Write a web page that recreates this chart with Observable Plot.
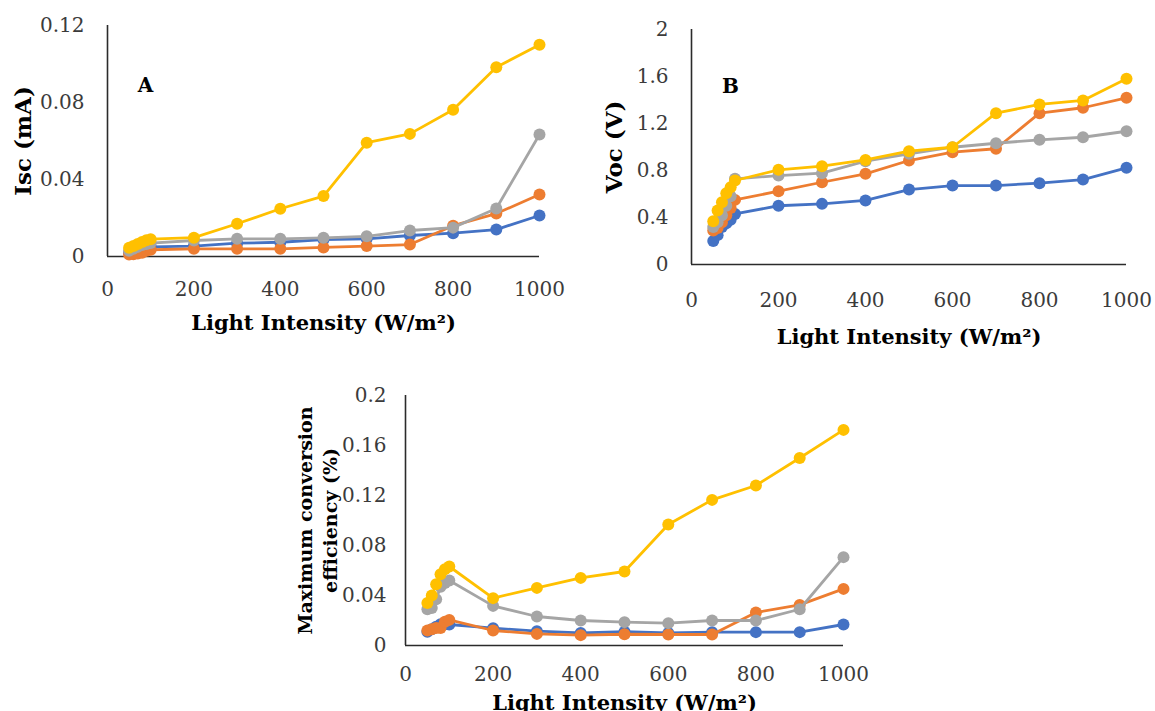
<!DOCTYPE html>
<html>
<head>
<meta charset="utf-8">
<script src="https://cdn.jsdelivr.net/npm/d3@7"></script>
<script src="https://cdn.jsdelivr.net/npm/@observablehq/plot@0.6"></script>
<style>
  body { margin: 0; background: #ffffff; }
  #fig { position: relative; width: 1155px; height: 711px; overflow: hidden; background: #ffffff; }
  .panel { position: absolute; }
</style>
</head>
<body>
<div id="fig"></div>
<script>
// Light intensity (W/m²) shared by all three panels
const intensity = [50, 60, 70, 80, 90, 100, 200, 300, 400, 500, 600, 700, 800, 900, 1000];

const seriesNames = ["Series 1", "Series 2", "Series 3", "Series 4"];
const seriesColors = ["#4472C4", "#ED7D31", "#A5A5A5", "#FFC000"];

// A: short-circuit current Isc (mA)
const iscSeries1 = [0.002, 0.0025, 0.003, 0.004, 0.0045, 0.005, 0.0054, 0.0069, 0.0074, 0.0088, 0.0092, 0.0109, 0.0121, 0.014, 0.0213];
const iscSeries2 = [0.001, 0.0012, 0.0015, 0.002, 0.003, 0.0035, 0.004, 0.004, 0.004, 0.0047, 0.0054, 0.0062, 0.016, 0.0223, 0.0322];
const iscSeries3 = [0.003, 0.004, 0.005, 0.006, 0.0065, 0.007, 0.0083, 0.0092, 0.0092, 0.0097, 0.0105, 0.0135, 0.015, 0.0249, 0.0634];
const iscSeries4 = [0.0045, 0.0055, 0.0065, 0.0075, 0.0085, 0.009, 0.0098, 0.017, 0.0248, 0.0314, 0.0591, 0.0637, 0.0762, 0.0983, 0.110];

// B: open-circuit voltage Voc (V)
const vocSeries1 = [0.20, 0.25, 0.32, 0.35, 0.38, 0.43, 0.50, 0.516, 0.545, 0.638, 0.672, 0.672, 0.692, 0.723, 0.823];
const vocSeries2 = [0.29, 0.31, 0.36, 0.42, 0.48, 0.55, 0.624, 0.70, 0.772, 0.885, 0.956, 0.985, 1.288, 1.334, 1.419];
const vocSeries3 = [0.32, 0.36, 0.42, 0.50, 0.58, 0.729, 0.757, 0.777, 0.879, 0.942, 0.998, 1.032, 1.061, 1.083, 1.134];
const vocSeries4 = [0.369, 0.46, 0.53, 0.607, 0.658, 0.715, 0.806, 0.837, 0.89, 0.964, 0.998, 1.288, 1.362, 1.396, 1.58];

// C: maximum conversion efficiency (%)
const effSeries1 = [0.011, 0.013, 0.015, 0.017, 0.017, 0.0168, 0.0139, 0.0115, 0.0101, 0.011, 0.0101, 0.0107, 0.0107, 0.0107, 0.0168];
const effSeries2 = [0.012, 0.013, 0.014, 0.014, 0.019, 0.0205, 0.012, 0.0093, 0.0083, 0.009, 0.0088, 0.0088, 0.0264, 0.0325, 0.0453];
const effSeries3 = [0.029, 0.030, 0.037, 0.047, 0.050, 0.052, 0.0317, 0.0232, 0.020, 0.0187, 0.0179, 0.020, 0.020, 0.029, 0.0707];
const effSeries4 = [0.034, 0.040, 0.049, 0.057, 0.061, 0.0632, 0.0379, 0.0461, 0.0541, 0.0592, 0.0968, 0.1165, 0.128, 0.150, 0.1725];

// Tick values
const xTicks = [0, 200, 400, 600, 800, 1000];
const iscTicks = [0, 0.04, 0.08, 0.12];
const vocTicks = [0, 0.4, 0.8, 1.2, 1.6, 2];
const effTicks = [0, 0.04, 0.08, 0.12, 0.16, 0.2];

const xTitle = "Light Intensity (W/m²)";
const font = "'DejaVu Serif', 'Liberation Serif', serif";

function panel(cfg) {
  const series = [cfg.s1, cfg.s2, cfg.s3, cfg.s4];
  const seriesMarks = series.flatMap((vals, si) => {
    const rows = intensity.map((x, i) => ({x, y: vals[i], series: seriesNames[si]}));
    return [
      Plot.line(rows, {x: "x", y: "y", stroke: seriesColors[si], strokeWidth: 2.8, strokeLinejoin: "round"}),
      Plot.dot(rows, {x: "x", y: "y", fill: seriesColors[si], r: 6})
    ];
  });
  const marks = [
    Plot.axisX({ticks: xTicks, tickSize: 0, tickPadding: cfg.xPad, tickFormat: d => String(d),
      label: null, fontSize: 20, fill: "#3b3b3b"}),
    Plot.axisY({ticks: cfg.yTicks, tickSize: 0, tickPadding: cfg.yPad, tickFormat: d => String(d),
      label: null, fontSize: 20, fill: "#3b3b3b"}),
    Plot.ruleY([0], {stroke: "#2b2b2b", strokeWidth: 1.6}),
    Plot.ruleX([0], {stroke: "#2b2b2b", strokeWidth: 1.6}),
    ...seriesMarks,
    Plot.text([xTitle], {frameAnchor: "bottom", dy: cfg.xTitleDy, text: d => d, textAnchor: "middle",
      fontSize: 21, fontWeight: "bold", fill: "#000", lineAnchor: "middle"}),
    Plot.text([cfg.yLabel], {frameAnchor: "left", dx: cfg.yTitleDx, dy: cfg.yTitleDy || 0, text: d => d,
      textAnchor: "middle", rotate: -90, fontSize: cfg.yTitleSize, fontWeight: "bold", fill: "#000",
      lineAnchor: "middle", lineHeight: cfg.yTitleLine || 1.2})
  ];
  if (cfg.letter) {
    marks.push(Plot.text([cfg.letter], {frameAnchor: "top-left", dx: cfg.letterDx, dy: cfg.letterDy,
      text: d => d, textAnchor: "middle", fontSize: 20, fontWeight: "bold", fill: "#000", lineAnchor: "middle"}));
  }
  const svg = Plot.plot({
    width: cfg.width,
    height: cfg.height,
    marginLeft: cfg.ml, marginRight: cfg.mr, marginTop: cfg.mt, marginBottom: cfg.mb,
    x: {type: "linear", domain: [0, 1000]},
    y: {type: "linear", domain: cfg.yDomain},
    style: {fontFamily: font, background: "transparent", overflow: "visible"},
    marks
  });
  const wrap = document.createElement("div");
  wrap.className = "panel";
  wrap.style.left = cfg.left + "px";
  wrap.style.top = cfg.top + "px";
  wrap.appendChild(svg);
  document.getElementById("fig").appendChild(wrap);
}

// Panel A
panel({
  s1: iscSeries1, s2: iscSeries2, s3: iscSeries3, s4: iscSeries4,
  yTicks: iscTicks, yDomain: [0, 0.12], yLabel: "Isc (mA)", letter: "A",
  left: 0, top: 0, width: 580, height: 340, ml: 107, mr: 41, mt: 25, mb: 84,
  xPad: 25, yPad: 23, xTitleDy: 67, yTitleDx: -85, yTitleSize: 23, letterDx: 38, letterDy: 60
});

// Panel B
panel({
  s1: vocSeries1, s2: vocSeries2, s3: vocSeries3, s4: vocSeries4,
  yTicks: vocTicks, yDomain: [0, 2], yLabel: "Voc (V)", letter: "B",
  left: 580, top: 0, width: 575, height: 360, ml: 111, mr: 29, mt: 29, mb: 96,
  xPad: 28, yPad: 23, xTitleDy: 73, yTitleDx: -78, yTitleSize: 23, letterDx: 39, letterDy: 57
});

// Panel C
panel({
  s1: effSeries1, s2: effSeries2, s3: effSeries3, s4: effSeries4,
  yTicks: effTicks, yDomain: [0, 0.2], yLabel: "Maximum conversion\nefficiency (%)", letter: null,
  left: 280, top: 370, width: 620, height: 341, ml: 125, mr: 57, mt: 25, mb: 66,
  xPad: 21, yPad: 19, xTitleDy: 58, yTitleDx: -89, yTitleSize: 19, yTitleLine: 1.32
});
</script>
</body>
</html>
